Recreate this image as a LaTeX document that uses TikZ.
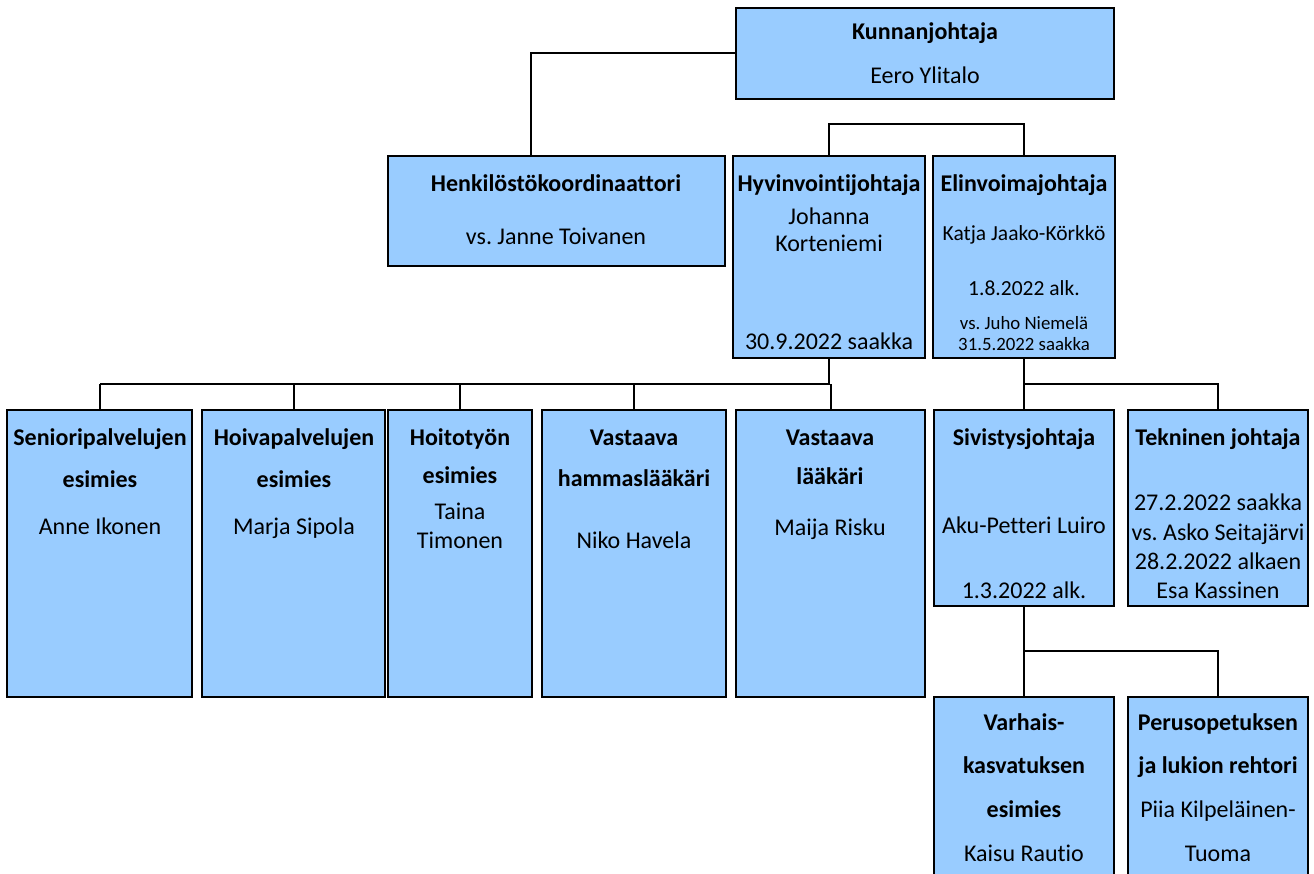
\documentclass[tikz,border=0pt]{standalone}
\usepackage{fontspec}
\setmainfont{Carlito}[Ligatures={NoCommon}]
\frenchspacing
\definecolor{boxblue}{HTML}{99CCFF}
\tikzset{
  box/.style={draw=black, line width=2.8pt, fill=boxblue, anchor=north west, inner sep=0pt, outer sep=0pt},
  conn/.style={draw=black, line width=2pt},
  lab/.style={inner sep=0pt, anchor=mid, yshift=-6pt, font=\fontsize{24}{28}\selectfont},
  bl/.style={lab, font=\fontsize{24}{28}\selectfont\bfseries},
  sl/.style={lab, font=\fontsize{21.5}{25}\selectfont},
  tl/.style={lab, yshift=1pt, font=\fontsize{18.8}{22}\selectfont}
}
\begin{document}
\begin{tikzpicture}[x=1pt,y=-1pt]
\useasboundingbox (0,0) rectangle (1314,874);
% boxes
\node[box, minimum width=378pt, minimum height=91pt] (kj) at (736,8) {};
\node[box, minimum width=337pt, minimum height=110pt] (hk) at (388,156) {};
\node[box, minimum width=192pt, minimum height=202pt] (hv) at (733,156) {};
\node[box, minimum width=182pt, minimum height=202pt] (ev) at (933,156) {};
\node[box, minimum width=185pt, minimum height=287pt] (sp) at (7,410) {};
\node[box, minimum width=183pt, minimum height=287pt] (hp) at (202,410) {};
\node[box, minimum width=144pt, minimum height=287pt] (ht) at (388,410) {};
\node[box, minimum width=184pt, minimum height=287pt] (hl) at (542,410) {};
\node[box, minimum width=189pt, minimum height=287pt] (vl) at (736,410) {};
\node[box, minimum width=180pt, minimum height=196pt] (sj) at (934,410) {};
\node[box, minimum width=180pt, minimum height=196pt] (tj) at (1128,410) {};
\node[box, minimum width=180pt, minimum height=210pt] (vk) at (934,697) {};
\node[box, minimum width=180pt, minimum height=210pt] (po) at (1128,697) {};
% connectors
\coordinate (hkin) at (531,156);
\draw[conn] (kj.west) -| (hkin);
\draw[conn] (hv.north) -- ++(0,-32) -| (ev.north);
\coordinate (busL) at (100,384);
\draw[conn] (hv.south) -- (hv.south |- busL) -- (busL);
\draw[conn] (sp.north) -- (sp.north |- busL);
\draw[conn] (hp.north) -- (hp.north |- busL);
\draw[conn] (ht.north) -- (ht.north |- busL);
\draw[conn] (hl.north) -- (hl.north |- busL);
\draw[conn] (vl.north) -- (vl.north |- busL);
\draw[conn] (ev.south) -- ++(0,26) -| (tj.north);
\draw[conn] (sj.north) -- ++(0,-26);
\draw[conn] (sj.south) -- ++(0,45) -| (po.north);
\draw[conn] (vk.north) -- ++(0,-45);
% texts
\node[bl] (kj1) at (925,31) {Kunnanjohtaja};
\node[lab] (kj2) at (925,75) {Eero Ylitalo};
\node[bl] (hk1) at (556,183) {Henkilöstökoordinaattori};
\node[lab] (hk2) at (556,236) {vs. Janne Toivanen};
\node[bl] (hv1) at (829,183) {Hyvinvointijohtaja};
\node[lab] (hv2) at (829,216) {Johanna};
\node[lab] (hv3) at (829,243) {Korteniemi};
\node[lab] (hv4) at (829,341) {30.9.2022 saakka};
\node[bl] (ev1) at (1024,183) {Elinvoimajohtaja};
\node[sl] (ev2) at (1024,232) {Katja Jaako-Körkkö};
\node[sl] (ev3) at (1024,287) {1.8.2022 alk.};
\node[tl] (ev4) at (1024,322) {vs. Juho Niemelä};
\node[tl] (ev5) at (1024,343) {31.5.2022 saakka};
\node[bl] (sp1) at (100,437) {Senioripalvelujen};
\node[bl] (sp2) at (100,479) {esimies};
\node[lab] (sp3) at (100,526) {Anne Ikonen};
\node[bl] (hp1) at (294,437) {Hoivapalvelujen};
\node[bl] (hp2) at (294,479) {esimies};
\node[lab] (hp3) at (294,526) {Marja Sipola};
\node[bl] (ht1) at (460,437) {Hoitotyön};
\node[bl] (ht2) at (460,475) {esimies};
\node[lab] (ht3) at (460,511) {Taina};
\node[lab] (ht4) at (460,540) {Timonen};
\node[bl] (hl1) at (634,437) {Vastaava};
\node[bl] (hl2) at (634,478) {hammaslääkäri};
\node[lab] (hl3) at (634,540) {Niko Havela};
\node[bl] (vl1) at (830,437) {Vastaava};
\node[bl] (vl2) at (830,476) {lääkäri};
\node[lab] (vl3) at (830,527) {Maija Risku};
\node[bl] (sj1) at (1024,437) {Sivistysjohtaja};
\node[lab] (sj2) at (1024,525) {Aku-Petteri Luiro};
\node[lab] (sj3) at (1024,590) {1.3.2022 alk.};
\node[bl] (tj1) at (1218,437) {Tekninen johtaja};
\node[lab] (tj2) at (1218,502) {27.2.2022 saakka};
\node[lab] (tj3) at (1218,532) {vs. Asko Seitajärvi};
\node[lab] (tj4) at (1218,561) {28.2.2022 alkaen};
\node[lab] (tj5) at (1218,590) {Esa Kassinen};
\node[bl] (vk1) at (1024,722) {Varhais-};
\node[bl] (vk2) at (1024,765) {kasvatuksen};
\node[bl] (vk3) at (1024,809) {esimies};
\node[lab] (vk4) at (1024,853) {Kaisu Rautio};
\node[bl] (po1) at (1218,722) {Perusopetuksen};
\node[bl] (po2) at (1218,765) {ja lukion rehtori};
\node[lab] (po3) at (1218,809) {Piia Kilpeläinen-};
\node[lab] (po4) at (1218,853) {Tuoma};
\end{tikzpicture}
\end{document}
